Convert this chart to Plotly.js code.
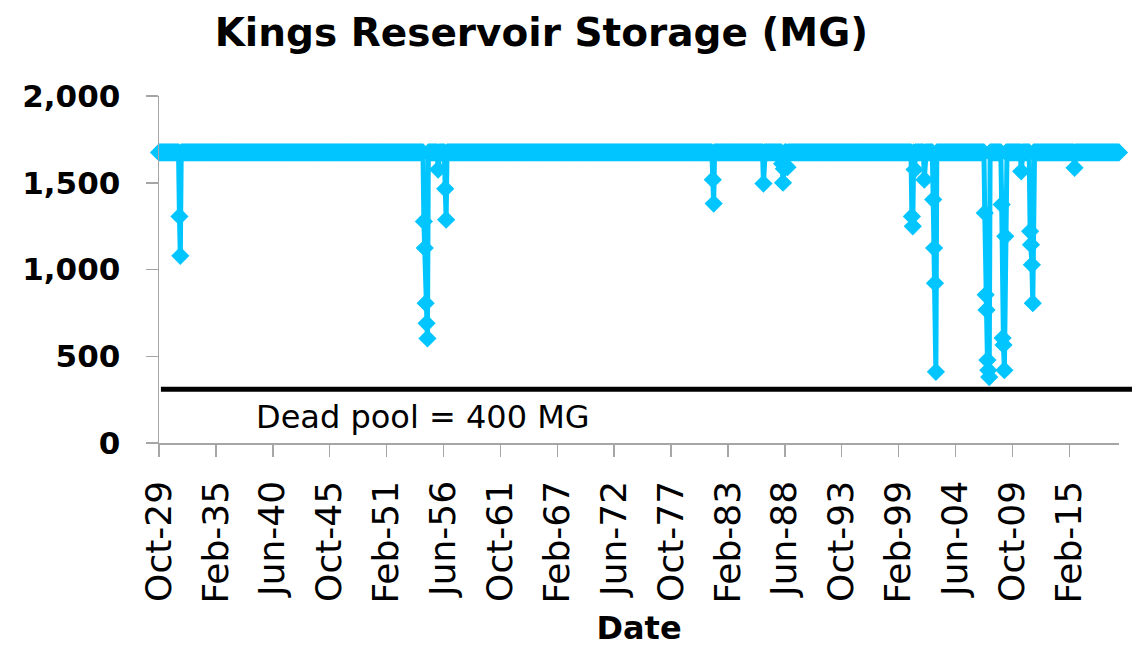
<!DOCTYPE html>
<html>
<head>
<meta charset="utf-8">
<script src="https://cdn.plot.ly/plotly-3.0.1.min.js"></script>
<style>
  html, body { margin: 0; padding: 0; background: #ffffff; }
  #chart { width: 1142px; height: 649px; }
</style>
</head>
<body>
<div id="chart"></div>
<script>
// ---- data ----
// Storage when the reservoir is full (MG)
const fullLevel = 1675;
// First and last month of the record
const startMonth = '1929-10';
const endMonth = '2019-10';
// Months where storage was drawn below full, and the storage (MG)
const dipDates = ['1931-09','1931-10',
  '1954-08','1954-09','1954-10','1954-11','1954-12',
  '1955-12','1956-08','1956-09',
  '1981-09','1981-10','1986-06',
  '1988-03','1988-04','1988-05','1988-09',
  '2000-05','2000-06','2000-08','2001-07',
  '2002-05','2002-06','2002-07','2002-08',
  '2007-03','2007-04','2007-05','2007-06','2007-07','2007-08',
  '2008-10','2008-11','2008-12','2009-01','2009-02',
  '2010-08','2011-06','2011-07','2011-08','2011-09',
  '2015-08'];
const dipValues = [1306,1079,
  1277,1124,806,690,603,
  1576,1465,1287,
  1518,1380,1495,
  1610,1500,1580,1590,
  1306,1249,1576,1518,
  1403,1124,921,410,
  1326,854,767,478,420,380,
  1374,605,565,420,1191,
  1566,1220,1143,1027,806,
  1586];
// Dead pool reference line (drawn level) and its label
const deadPoolLevel = 310;
const deadPoolLabel = 'Dead pool = 400 MG';
// Axis ticks
const xTickDates = ['1929-10-01','1935-02-01','1940-06-01','1945-10-01','1951-02-01','1956-06-01',
  '1961-10-01','1967-02-01','1972-06-01','1977-10-01','1983-02-01','1988-06-01','1993-10-01',
  '1999-02-01','2004-06-01','2009-10-01','2015-02-01'];
const xTickLabels = ['Oct-29','Feb-35','Jun-40','Oct-45','Feb-51','Jun-56','Oct-61','Feb-67',
  'Jun-72','Oct-77','Feb-83','Jun-88','Oct-93','Feb-99','Jun-04','Oct-09','Feb-15'];
const yTickValues = [0, 500, 1000, 1500, 2000];

// ---- build monthly series ----
const dipMap = {};
dipDates.forEach((d, i) => { dipMap[d] = dipValues[i]; });
const xs = [], ys = [];
let [yy, mm] = startMonth.split('-').map(Number);
const [ey, em] = endMonth.split('-').map(Number);
while (yy < ey || (yy === ey && mm <= em)) {
  const key = yy + '-' + String(mm).padStart(2, '0');
  xs.push(key + '-01');
  ys.push(key in dipMap ? dipMap[key] : fullLevel);
  mm++; if (mm > 12) { mm = 1; yy++; }
}

const FONT = 'DejaVu Sans, sans-serif';
const BLUE = '#00C5FF';
const AXIS = '#A6A6A6';

const trace = {
  type: 'scatter', mode: 'lines+markers',
  x: xs, y: ys,
  line: { color: BLUE, width: 5 },
  marker: { symbol: 'diamond', size: 14, color: BLUE },
  cliponaxis: false,
  hoverinfo: 'x+y'
};

const layout = {
  width: 1142, height: 649,
  paper_bgcolor: '#ffffff', plot_bgcolor: '#ffffff',
  margin: { l: 159, r: 23, t: 96, b: 206 },
  showlegend: false,
  title: {
    text: '<b>Kings Reservoir Storage (MG)</b>',
    font: { family: FONT, size: 39, color: '#000000' },
    x: 0.474, xanchor: 'center', xref: 'container',
    y: 0.95, yanchor: 'middle', yref: 'container'
  },
  xaxis: {
    type: 'date',
    range: [xs[0], xs[xs.length - 1]],
    tickmode: 'array', tickvals: xTickDates, ticktext: xTickLabels,
    tickangle: -90,
    tickfont: { family: FONT, size: 36, color: '#000000' },
    ticks: 'outside', ticklen: 12, tickwidth: 1.5, tickcolor: AXIS,
    showline: true, linecolor: AXIS, linewidth: 1.5,
    showgrid: false, zeroline: false,
    ticklabelstandoff: 10,
    title: { text: '<b>Date</b>', font: { family: FONT, size: 32, color: '#000000' }, standoff: 14 }
  },
  yaxis: {
    range: [0, 2000],
    tickmode: 'array', tickvals: yTickValues,
    tickformat: ',d',
    tickfont: { family: FONT, size: 31, color: '#000000', weight: 'bold' },
    ticks: 'outside', ticklen: 12, tickwidth: 1.5, tickcolor: AXIS,
    showline: true, linecolor: AXIS, linewidth: 1.5,
    showgrid: false, zeroline: false,
    ticklabelstandoff: 19
  },
  shapes: [{
    type: 'line', xref: 'paper', yref: 'y',
    x0: 0.002, x1: 1.0135, y0: deadPoolLevel, y1: deadPoolLevel,
    line: { color: '#000000', width: 5 }
  }],
  annotations: [{
    text: deadPoolLabel, xref: 'paper', yref: 'y',
    x: 0.2755, y: 149, xanchor: 'center', yanchor: 'middle',
    showarrow: false,
    font: { family: FONT, size: 32, color: '#000000' }
  }]
};

Plotly.newPlot('chart', [trace], layout, { displayModeBar: false, staticPlot: true });
</script>
</body>
</html>
